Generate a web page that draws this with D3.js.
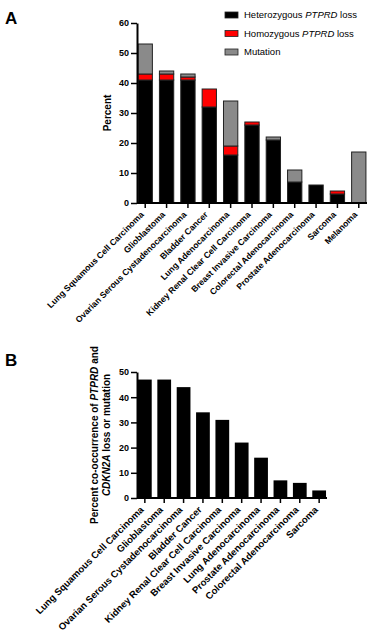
<!DOCTYPE html>
<html>
<head>
<meta charset="utf-8">
<script src="https://cdn.jsdelivr.net/npm/d3@7"></script>
<style>
  body { margin: 0; background: #fff; }
  svg { display: block; font-family: "Liberation Sans", Arial, sans-serif; }
</style>
</head>
<body>
<div id="chart"></div>
<script>
// panel A data
const cancersA = ["Lung Squamous Cell Carcinoma", "Glioblastoma", "Ovarian Serous Cystadenocarcinoma",
  "Bladder Cancer", "Lung Adenocarcinoma", "Kidney Renal Clear Cell Carcinoma", "Breast Invasive Carcinoma",
  "Colorectal Adenocarcinoma", "Prostate Adenocarcinoma", "Sarcoma", "Melanoma"]
const hetLoss = [41, 41, 41, 32, 16, 26, 21, 7, 6, 3, 0]
const homLoss = [2, 2, 1, 6, 3, 1, 0, 0, 0, 1, 0]
const mutation = [10, 1, 1, 0, 15, 0, 1, 4, 0, 0, 17]
const ticksA = [0, 10, 20, 30, 40, 50, 60]

// panel B data
const cancersB = ["Lung Squamous Cell Carcinoma", "Glioblastoma", "Ovarian Serous Cystadenocarcinoma",
  "Bladder Cancer", "Kidney Renal Clear Cell Carcinoma", "Breast Invasive Carcinoma", "Lung Adenocarcinoma",
  "Prostate Adenocarcinoma", "Colorectal Adenocarcinoma", "Sarcoma"]
const coOccur = [47, 47, 44, 34, 31, 22, 16, 7, 6, 3]
const ticksB = [0, 10, 20, 30, 40, 50]

const keys = ["het", "hom", "mut"]
const colors = {het: "#000000", hom: "#ff0000", mut: "#8a8a8a"}

const width = 375
const height = 643

const svg = d3.select("#chart")
  .append("svg")
  .attr("width", width)
  .attr("height", height)

// GraphPad-like axis look
function styleAxis(g) {
  g.selectAll(".domain").attr("stroke", "#000").attr("stroke-width", 2)
  g.selectAll(".tick line").attr("stroke", "#000").attr("stroke-width", 1.5)
  g.selectAll("text").attr("font-weight", "bold").attr("font-size", 9).attr("fill", "#000")
}

// rotated category labels
function slantLabels(g, size) {
  g.selectAll(".tick text")
    .attr("font-size", size)
    .attr("text-anchor", "end")
    .attr("transform", "translate(-3,10) rotate(-45)")
    .attr("dy", "0.35em")
    .attr("y", 0)
    .attr("x", 0)
}

// ---------- panel A ----------
const xA = d3.scaleBand().domain(cancersA).range([137, 367]).paddingInner(0.33).paddingOuter(0.05)
const yA = d3.scaleLinear().domain([0, 60]).range([203, 23])

const rowsA = cancersA.map((c, i) => ({cancer: c, het: hetLoss[i], hom: homLoss[i], mut: mutation[i]}))
const stackA = d3.stack().keys(keys)(rowsA)

svg.append("g")
  .selectAll("g")
  .data(stackA)
  .join("g")
  .attr("fill", d => colors[d.key])
  .selectAll("rect")
  .data(d => d.filter(s => s[1] - s[0] > 0))
  .join("rect")
  .attr("x", d => xA(d.data.cancer))
  .attr("width", xA.bandwidth())
  .attr("y", d => yA(d[1]))
  .attr("height", d => yA(d[0]) - yA(d[1]))
  .attr("stroke", "#222")
  .attr("stroke-width", 1)

const yAxisA = svg.append("g")
  .attr("transform", "translate(137,0)")
  .call(d3.axisLeft(yA).tickValues(ticksA).tickSize(6).tickPadding(2).tickSizeOuter(0))
styleAxis(yAxisA)

const xAxisA = svg.append("g")
  .attr("transform", "translate(0,203)")
  .call(d3.axisBottom(xA).tickSize(5).tickSizeOuter(0))
styleAxis(xAxisA)
xAxisA.select(".domain").attr("d", "M137,0H367")
slantLabels(xAxisA, 8.6)

svg.append("text")
  .attr("transform", "translate(111,113) rotate(-90)")
  .attr("text-anchor", "middle")
  .attr("font-weight", "bold")
  .attr("font-size", 10)
  .text("Percent")

svg.append("text")
  .attr("x", 5).attr("y", 24)
  .attr("font-weight", "bold")
  .attr("font-size", 17)
  .text("A")

// legend
const legendItems = [
  {key: "het", pre: "Heterozygous ", it: "PTPRD", post: " loss"},
  {key: "hom", pre: "Homozygous ", it: "PTPRD", post: " loss"},
  {key: "mut", pre: "Mutation", it: "", post: ""}
]
const legend = svg.append("g")
  .selectAll("g")
  .data(legendItems)
  .join("g")
  .attr("transform", (d, i) => `translate(225,${15 + i * 18.5})`)
legend.append("rect")
  .attr("x", 0).attr("y", -3)
  .attr("width", 13).attr("height", 6)
  .attr("fill", d => colors[d.key])
  .attr("stroke", "#222")
  .attr("stroke-width", 0.8)
const legendText = legend.append("text")
  .attr("x", 19).attr("y", 0)
  .attr("dy", "0.35em")
  .attr("font-size", 9.5)
legendText.append("tspan").text(d => d.pre)
legendText.append("tspan").attr("font-style", "italic").text(d => d.it)
legendText.append("tspan").text(d => d.post)

// ---------- panel B ----------
const xB = d3.scaleBand().domain(cancersB).range([137, 327]).paddingInner(0.29).paddingOuter(0.05)
const yB = d3.scaleLinear().domain([0, 50]).range([498, 372])

svg.append("g")
  .selectAll("rect")
  .data(cancersB)
  .join("rect")
  .attr("x", d => xB(d))
  .attr("width", xB.bandwidth())
  .attr("y", (d, i) => yB(coOccur[i]))
  .attr("height", (d, i) => yB(0) - yB(coOccur[i]))
  .attr("fill", "#000")

const yAxisB = svg.append("g")
  .attr("transform", "translate(137,0)")
  .call(d3.axisLeft(yB).tickValues(ticksB).tickSize(6).tickPadding(2).tickSizeOuter(0))
styleAxis(yAxisB)

const xAxisB = svg.append("g")
  .attr("transform", "translate(0,498)")
  .call(d3.axisBottom(xB).tickSize(5).tickSizeOuter(0))
styleAxis(xAxisB)
xAxisB.select(".domain").attr("d", "M137,0H327")
slantLabels(xAxisB, 9.6)

const yLabB = svg.append("text")
  .attr("transform", "translate(100,435) rotate(-90)")
  .attr("text-anchor", "middle")
  .attr("font-weight", "bold")
  .attr("font-size", 10)
yLabB.append("tspan").attr("x", 0).attr("y", -2).text("Percent co-occurrence of ")
yLabB.append("tspan").attr("font-style", "italic").text("PTPRD")
yLabB.append("tspan").text(" and")
yLabB.append("tspan").attr("x", 0).attr("y", 10).attr("font-style", "italic").text("CDKN2A")
yLabB.append("tspan").text(" loss or mutation")

svg.append("text")
  .attr("x", 5).attr("y", 366)
  .attr("font-weight", "bold")
  .attr("font-size", 17)
  .text("B")
</script>
</body>
</html>
